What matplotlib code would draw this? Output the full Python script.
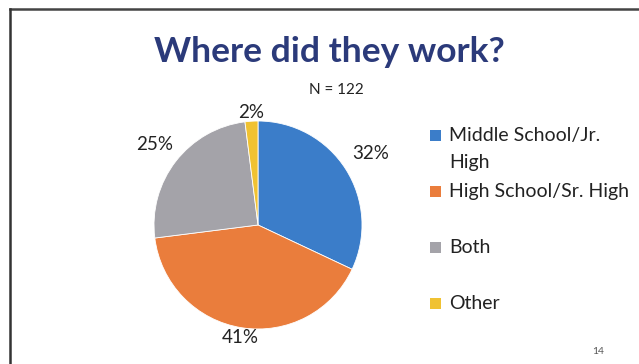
import matplotlib.pyplot as plt
import numpy as np
from matplotlib.patches import Rectangle
from matplotlib.lines import Line2D

labels = ['Middle School/Jr.\nHigh', 'High School/Sr. High', 'Both', 'Other']
values = [32, 41, 25, 2]
colors = ['#3B7DC9', '#EA7D3C', '#A4A3A9', '#F0C232']
label_dist = [1.28, 1.10, 1.26, 1.08]

W, H = 639, 364
fig = plt.figure(figsize=(W / 100, H / 100), dpi=100)
fig.patch.set_facecolor('white')
plt.rcParams['font.family'] = ['Lato', 'DejaVu Sans']

# slide frame (top and left edges visible in the scan)
fig.add_artist(Line2D([10 / W, 1], [1 - 9 / H, 1 - 9 / H], color='#444444', lw=1.8))
fig.add_artist(Line2D([10 / W, 10 / W], [0, 1 - 9 / H], color='#333333', lw=1.8))

fig.text(329 / W, 1 - 52 / H, 'Where did they work?', ha='center', va='center',
         fontsize=25.5, fontweight='bold', color='#2B3A7A')
fig.text(336 / W, 1 - 90 / H, 'N = 122', ha='center', va='center',
         fontsize=11, color='#222222')
fig.text(598 / W, 1 - 352 / H, '14', ha='center', va='center',
         fontsize=7.5, color='#555555')

# pie
cx, cy, r = 258, 225, 104
ax = fig.add_axes([(cx - r) / W, (H - cy - r) / H, 2 * r / W, 2 * r / H])
wedges, _ = ax.pie(values, colors=colors, startangle=90, counterclock=False,
                   wedgeprops=dict(edgecolor='white', linewidth=0.6))
ax.set_xlim(-1, 1)
ax.set_ylim(-1, 1)
ax.set_aspect('equal')
ax.axis('off')

for w, v, d in zip(wedges, values, label_dist):
    ang = np.deg2rad((w.theta1 + w.theta2) / 2)
    ax.text(d * np.cos(ang), d * np.sin(ang), f'{v}%', ha='center', va='center',
            fontsize=13.5, color='#222222', clip_on=False)

# legend
sq = 11
leg_y = [135, 191, 247, 303]
for lab, col, y in zip(labels, colors, leg_y):
    fig.add_artist(Rectangle(((435 - sq / 2) / W, (H - y - sq / 2) / H), sq / W, sq / H,
                             facecolor=col, edgecolor='none', transform=fig.transFigure))
    fig.text(449 / W, 1 - (y - 8) / H, lab, ha='left', va='top', fontsize=14,
             color='#222222', linespacing=1.7)

fig.savefig('out.png', dpi=100)
